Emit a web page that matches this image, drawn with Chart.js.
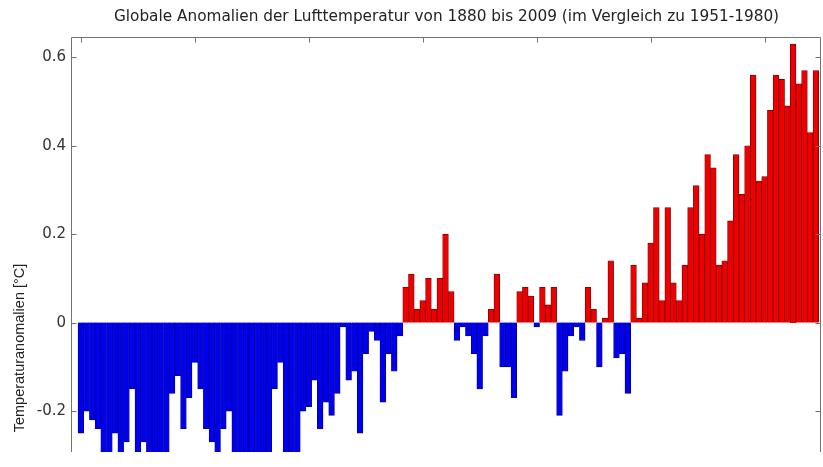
<!DOCTYPE html>
<html>
<head>
<meta charset="utf-8">
<script src="https://cdn.jsdelivr.net/npm/chart.js@4.4.1/dist/chart.umd.min.js"></script>
<style>
  html, body { margin: 0; padding: 0; background: #fff; overflow: hidden; }
  canvas { display: block; }
</style>
</head>
<body>
<canvas id="chart" width="823" height="467"></canvas>
<script>
// Global air temperature anomalies 1880-2009, relative to the 1951-1980 mean (°C)
const TITLE = 'Globale Anomalien der Lufttemperatur von 1880 bis 2009 (im Vergleich zu 1951-1980)';
const Y_LABEL = 'Temperaturanomalien [°C]';

const years = [];
for (let yr = 1880; yr <= 2009; yr++) years.push(yr);

const anomalies = [
  // 1880s
  -0.25, -0.20, -0.22, -0.24, -0.31, -0.33, -0.25, -0.30, -0.27, -0.15,
  // 1890s
  -0.32, -0.27, -0.31, -0.34, -0.33, -0.30, -0.16, -0.12, -0.24, -0.17,
  // 1900s
  -0.09, -0.15, -0.24, -0.27, -0.35, -0.24, -0.20, -0.33, -0.38, -0.40,
  // 1910s
  -0.37, -0.38, -0.33, -0.32, -0.15, -0.09, -0.31, -0.38, -0.30, -0.20,
  // 1920s
  -0.19, -0.13, -0.24, -0.18, -0.21, -0.16, -0.01, -0.13, -0.11, -0.25,
  // 1930s
  -0.07, -0.02, -0.04, -0.18, -0.07, -0.11, -0.03, 0.08, 0.11, 0.03,
  // 1940s
  0.05, 0.10, 0.03, 0.10, 0.20, 0.07, -0.04, -0.01, -0.03, -0.07,
  // 1950s
  -0.15, -0.03, 0.03, 0.11, -0.10, -0.10, -0.17, 0.07, 0.08, 0.06,
  // 1960s
  -0.01, 0.08, 0.04, 0.08, -0.21, -0.11, -0.03, -0.01, -0.04, 0.08,
  // 1970s
  0.03, -0.10, 0.01, 0.14, -0.08, -0.07, -0.16, 0.13, 0.01, 0.09,
  // 1980s
  0.18, 0.26, 0.05, 0.26, 0.09, 0.05, 0.13, 0.26, 0.31, 0.20,
  // 1990s
  0.38, 0.35, 0.13, 0.14, 0.23, 0.38, 0.29, 0.40, 0.56, 0.32,
  // 2000s
  0.33, 0.48, 0.56, 0.55, 0.49, 0.63, 0.54, 0.57, 0.43, 0.57
];

const yTickValues = [0.6, 0.4, 0.2, 0, -0.2];
const yTickLabels = ['0.6', '0.4', '0.2', '0', '-0.2'];
const xTickYears = [1880, 1900, 1920, 1940, 1960, 1980, 2000];

const WARM = 'rgb(236, 0, 0)';
const WARM_EDGE = 'rgb(120, 0, 0)';
const COLD = 'rgb(0, 0, 236)';
const COLD_EDGE = 'rgb(0, 0, 140)';
const AXIS = 'rgb(115, 115, 115)';

// Box around the plot with inward tick marks, plus the rotated y-axis caption
const framePlugin = {
  id: 'frame',
  afterDatasetsDraw(chart) {
    const { ctx, chartArea: a, scales: { x, y } } = chart;
    const L = Math.round(a.left) - 0.5;
    const R = Math.round(a.right) - 0.5;
    const T = Math.round(a.top) + 0.5;
    const B = a.bottom;
    ctx.save();
    ctx.strokeStyle = AXIS;
    ctx.lineWidth = 1;
    ctx.beginPath();
    ctx.moveTo(L, B); ctx.lineTo(L, T); ctx.lineTo(R, T); ctx.lineTo(R, B);
    yTickValues.forEach(v => {
      const p = Math.round(y.getPixelForValue(v)) + 0.5;
      ctx.moveTo(L, p); ctx.lineTo(L + 5, p);
      ctx.moveTo(R, p); ctx.lineTo(R - 5, p);
    });
    xTickYears.forEach(v => {
      const p = Math.round(x.getPixelForValue(v)) + 0.5;
      ctx.moveTo(p, T); ctx.lineTo(p, T + 5);
    });
    ctx.stroke();

    ctx.translate(20, 348);
    ctx.rotate(-Math.PI / 2);
    ctx.fillStyle = '#222';
    ctx.font = '14.5px "Liberation Sans", Arial, sans-serif';
    ctx.textAlign = 'center';
    ctx.textBaseline = 'middle';
    ctx.fillText(Y_LABEL, 0, 0);
    ctx.restore();
  }
};

new Chart(document.getElementById('chart'), {
  type: 'bar',
  data: {
    datasets: [{
      data: years.map((yr, i) => ({ x: yr, y: anomalies[i] })),
      backgroundColor: c => (c.parsed && c.parsed.y < 0 ? COLD : WARM),
      borderColor: c => (c.parsed && c.parsed.y < 0 ? COLD_EDGE : WARM_EDGE),
      borderWidth: 0.8,
      barPercentage: 1,
      categoryPercentage: 1
    }]
  },
  options: {
    responsive: false,
    animation: false,
    devicePixelRatio: 1,
    layout: { padding: { top: 0, right: 2, bottom: 0, left: 0 } },
    plugins: {
      legend: { display: false },
      tooltip: { enabled: false },
      title: {
        display: true,
        text: TITLE,
        fullSize: false,
        color: '#222',
        font: { family: '"DejaVu Sans", sans-serif', size: 15.3, weight: 'normal', lineHeight: 1.2 },
        padding: { top: 8, bottom: 10.6 }
      }
    },
    scales: {
      x: {
        type: 'linear',
        display: false,
        offset: false,
        min: 1878.44,
        max: 2009.9
      },
      y: {
        type: 'linear',
        min: -0.2926,
        max: 0.646,
        grid: { display: false, drawTicks: false },
        border: { display: false },
        afterFit(scale) { scale.width = 72; },
        afterBuildTicks(scale) { scale.ticks = yTickValues.map(v => ({ value: v })); },
        ticks: {
          padding: 6,
          color: '#333',
          font: { family: '"DejaVu Sans", sans-serif', size: 15 },
          callback: (value) => {
            const i = yTickValues.findIndex(v => Math.abs(v - value) < 1e-9);
            return i >= 0 ? yTickLabels[i] : '';
          }
        }
      }
    }
  },
  plugins: [framePlugin]
});
</script>
</body>
</html>
